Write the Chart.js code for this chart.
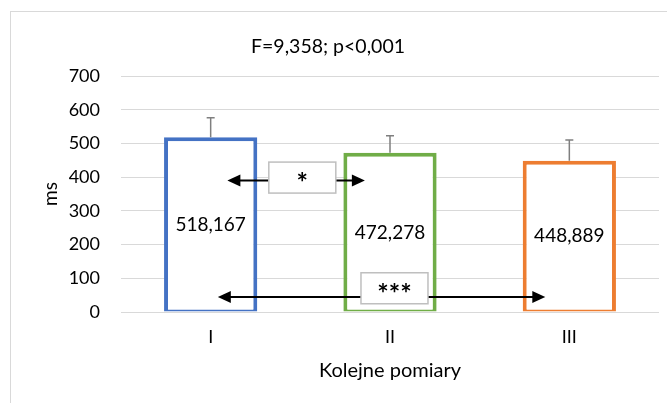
<!DOCTYPE html>
<html>
<head>
<meta charset="utf-8">
<script src="https://cdn.jsdelivr.net/npm/chart.js@4.4.0/dist/chart.umd.min.js"></script>
<style>
  html, body { margin: 0; padding: 0; background: #fff; }
  #wrap { position: relative; width: 667px; height: 403px; overflow: hidden; }
  #frame { position: absolute; left: 10px; top: 11px; width: 700px; height: 450px; border: 1px solid #d9d9d9; }
  canvas { position: absolute; left: 0; top: 0; }
</style>
</head>
<body>
<div id="wrap">
  <div id="frame"></div>
  <canvas id="chart" width="667" height="403"></canvas>
</div>
<script>
// data
const categories = ["I", "II", "III"];
const means = [518.167, 472.278, 448.889];
const errorTop = [576, 523, 510];
const meanLabels = ["518,167", "472,278", "448,889"];
const barColors = ["#4472c4", "#70ad47", "#ed7d31"];
const yTicks = [0, 100, 200, 300, 400, 500, 600, 700];

const titleText = "F=9,358; p<0,001";

// significance arrows, in category index / axis value units
const arrowFrom = [0.093, 0.04];
const arrowTo = [0.86, 1.866];
const arrowValue = [390, 44.6];
const boxCenter = [0.511, 1.025];
const boxValue = [398.7, 70.4];
const boxText = ["*", "***"];

const fontName = "Lato";

// Error bars, value labels, arrows and title
const extras = {
  id: "extras",
  afterDatasetsDraw(chart) {
    const ctx = chart.ctx;
    const x = chart.scales.x;
    const y = chart.scales.y;
    const meta = chart.getDatasetMeta(0);

    // error bars (upper only)
    ctx.save();
    ctx.strokeStyle = "#7f7f7f";
    ctx.lineWidth = 1.5;
    for (let i = 0; i < means.length; i++) {
      const cx = meta.data[i].x;
      const y0 = y.getPixelForValue(means[i]);
      const y1 = y.getPixelForValue(errorTop[i]);
      ctx.beginPath();
      ctx.moveTo(cx, y0);
      ctx.lineTo(cx, y1);
      ctx.moveTo(cx - 4, y1);
      ctx.lineTo(cx + 4, y1);
      ctx.stroke();
    }

    // value labels in the middle of the bars
    ctx.fillStyle = "#000";
    ctx.font = "19px " + fontName;
    ctx.textAlign = "center";
    ctx.textBaseline = "middle";
    for (let i = 0; i < means.length; i++) {
      const cx = meta.data[i].x;
      const cy = (y.getPixelForValue(0) + y.getPixelForValue(means[i])) / 2;
      ctx.fillText(meanLabels[i], cx, cy);
    }

    // arrows with labels
    const step = x.getPixelForValue(1) - x.getPixelForValue(0);
    const x0 = x.getPixelForValue(0);
    for (let i = 0; i < arrowFrom.length; i++) {
      const xa = x0 + arrowFrom[i] * step;
      const xb = x0 + arrowTo[i] * step;
      const ya = y.getPixelForValue(arrowValue[i]);
      ctx.strokeStyle = "#000";
      ctx.fillStyle = "#000";
      ctx.lineWidth = 2;
      ctx.beginPath();
      ctx.moveTo(xa + 10, ya);
      ctx.lineTo(xb - 10, ya);
      ctx.stroke();
      ctx.beginPath();
      ctx.moveTo(xa, ya);
      ctx.lineTo(xa + 13, ya - 6);
      ctx.lineTo(xa + 13, ya + 6);
      ctx.closePath();
      ctx.fill();
      ctx.beginPath();
      ctx.moveTo(xb, ya);
      ctx.lineTo(xb - 13, ya - 6);
      ctx.lineTo(xb - 13, ya + 6);
      ctx.closePath();
      ctx.fill();

      const bx = x0 + boxCenter[i] * step;
      const by = y.getPixelForValue(boxValue[i]);
      const bw = 67;
      const bh = 31;
      ctx.fillStyle = "#fff";
      ctx.fillRect(bx - bw / 2, by - bh / 2, bw, bh);
      ctx.strokeStyle = "#bfbfbf";
      ctx.lineWidth = 1.5;
      ctx.strokeRect(bx - bw / 2, by - bh / 2, bw, bh);
      ctx.fillStyle = "#000";
      ctx.font = "bold 27px " + fontName;
      ctx.fillText(boxText[i], bx, by + 6);
    }

    // title
    ctx.fillStyle = "#000";
    ctx.font = "19.5px " + fontName;
    ctx.fillText(titleText, 328, 47);
    ctx.restore();
  }
};

new Chart(document.getElementById("chart"), {
  type: "bar",
  data: {
    labels: categories,
    datasets: [
      {
        data: means,
        backgroundColor: "#fff",
        borderColor: barColors,
        borderWidth: { top: 4, left: 4, right: 4, bottom: 2 },
        borderSkipped: false,
        categoryPercentage: 1,
        barPercentage: 0.52,
      },
    ],
  },
  options: {
    responsive: false,
    animation: false,
    layout: { padding: { left: 0, top: 76, right: 8, bottom: 0 } },
    plugins: {
      legend: { display: false },
      title: { display: false },
      tooltip: { enabled: false },
    },
    scales: {
      x: {
        grid: { display: false },
        border: { display: false },
        ticks: { color: "#000", font: { family: fontName, size: 18 }, padding: 6 },
        title: {
          display: true,
          text: "Kolejne pomiary",
          color: "#000",
          font: { family: fontName, size: 20 },
          padding: { top: 0, bottom: 20 },
        },
        afterFit(scale) {
          scale.height = 91;
        },
      },
      y: {
        min: 0,
        max: 700,
        afterBuildTicks(scale) {
          scale.ticks = yTicks.map((v) => ({ value: v }));
        },
        grid: { color: "#d9d9d9", lineWidth: 1, drawTicks: false },
        border: { display: false },
        ticks: { color: "#000", font: { family: fontName, size: 18 }, padding: 21 },
        title: {
          display: true,
          text: "ms",
          color: "#000",
          font: { family: fontName, size: 19 },
          padding: { top: 39, bottom: 0 },
        },
        afterFit(scale) {
          scale.width = 121;
        },
      },
    },
  },
  plugins: [extras],
});
</script>
</body>
</html>
